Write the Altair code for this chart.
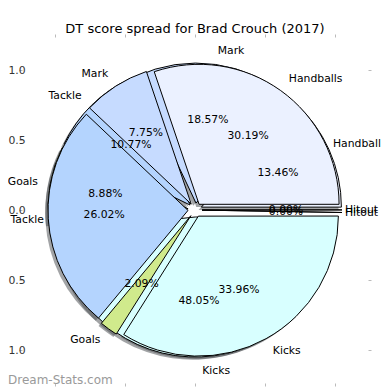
import math
import altair as alt
import pandas as pd

title_text = "DT score spread for Brad Crouch (2017)"
watermark = ["Dream-Stats.com"]

categories = ["Handballs", "Mark", "Tackle", "Goals", "Kicks", "Hitout"]
cat_colors = ["#ebf1ff", "#c6dbff", "#b4d4fe", "#d0ea8c", "#d8ffff", "#e6e6e6"]

# first (underlying) pie
pie_a_labels = ["Handball", "Mark", "Tackle", "Goals", "Kicks", "Hitout"]
pie_a_values = [13.46, 18.57, 10.77, 8.88, 48.05, 0.00]
# second (top) pie
pie_b_labels = ["Handballs", "Mark", "Tackle", "Goals", "Kicks", "Hitout"]
pie_b_values = [30.19, 7.75, 26.02, 2.09, 33.96, 0.00]

tick_values = [-1.0, -0.5, 0.0, 0.5, 1.0]

rows = []
for pie, labels, values in (("A", pie_a_labels, pie_a_values), ("B", pie_b_labels, pie_b_values)):
    for i, (lab, v) in enumerate(zip(labels, values)):
        rows.append({"pie": pie, "order": i, "cat": categories[i], "label": lab, "value": v})
df = pd.DataFrame(rows)

PX = 140.0  # pixels per data unit
LIM = 173 / PX
xs = alt.Scale(domain=[-LIM, LIM], nice=False, zero=False)
ys = alt.Scale(domain=[-LIM, LIM], nice=False, zero=False)
ts = alt.Scale(domain=[0, 100], range=[math.pi / 2, math.pi / 2 - 2 * math.pi])
cs = alt.Scale(domain=categories, range=cat_colors)

FONT = "DejaVu Sans"
FS = 10.8
# keep outer labels inside the drawing (svg edges, in data units)
LEFT_EDGE = (9 - 195) / PX
RIGHT_EDGE = (381 - 195) / PX
CHAR_L = 5.8 / PX
CHAR_R = 6.0 / PX

base = alt.Chart(df).transform_window(
    cum="sum(value)", groupby=["pie"], sort=[alt.SortField("order")]
).transform_calculate(
    start="datum.cum - datum.value",
    mid="(datum.cum - datum.value / 2) / 100 * 2 * PI",
).transform_calculate(
    ex="0.05 * cos(datum.mid)",
    ey="0.05 * sin(datum.mid)",
).transform_calculate(
    sx="datum.ex - 0.02",
    sy="datum.ey - 0.02",
    px="datum.ex + 0.6 * cos(datum.mid)",
    py="datum.ey + 0.6 * sin(datum.mid)",
    lx="datum.ex + 1.1 * cos(datum.mid)",
    ly="datum.ey + 1.1 * sin(datum.mid)",
    pct="format(datum.value, '.2f') + '%'",
).transform_calculate(
    lxl=f"max(datum.lx, {LEFT_EDGE} + length(datum.label) * {CHAR_L})",
    lxr=f"min(datum.lx, {RIGHT_EDGE} - length(datum.label) * {CHAR_R})",
)

axis_bottom = alt.Axis(orient="bottom", values=tick_values, format=".1f", tickSize=3,
                       tickColor="#bbbbbb", domain=False, grid=False, labelColor="#333333",
                       labelFont=FONT, labelFontSize=FS, labelPadding=2, title=None)
axis_left = alt.Axis(orient="left", values=tick_values, tickSize=3, tickColor="#bbbbbb",
                     domain=False, grid=False, labelColor="#333333", labelFont=FONT,
                     labelFontSize=FS, labelAlign="left", labelPadding=11,
                     labelBaseline="middle",
                     labelExpr="format(abs(datum.value), '.1f')", title=None)
axis_top = alt.Axis(orient="top", values=tick_values, tickSize=3, tickColor="#bbbbbb",
                    domain=False, grid=False, labels=False, title=None)
axis_right = alt.Axis(orient="right", values=tick_values, tickSize=3, tickColor="#bbbbbb",
                      domain=False, grid=False, labels=False, title=None)

theta = alt.Theta("start:Q", scale=ts, stack=False)
theta2 = alt.Theta2("cum:Q")

shadows = base.mark_arc(radius=140, color="#464a4d", opacity=0.5).encode(
    x=alt.X("sx:Q", scale=xs, axis=axis_bottom),
    y=alt.Y("sy:Q", scale=ys, axis=axis_left),
    theta=theta, theta2=theta2,
)

wedges_a = base.transform_filter("datum.pie == 'A'").mark_arc(
    radius=140, stroke="black", strokeWidth=1).encode(
    x=alt.X("ex:Q", scale=xs, axis=axis_top),
    y=alt.Y("ey:Q", scale=ys, axis=axis_right),
    theta=theta, theta2=theta2,
    color=alt.Color("cat:N", scale=cs, legend=None),
)

wedges_b = base.transform_filter("datum.pie == 'B'").mark_arc(
    radius=140, stroke="black", strokeWidth=1).encode(
    x=alt.X("ex:Q", scale=xs, axis=None),
    y=alt.Y("ey:Q", scale=ys, axis=None),
    theta=theta, theta2=theta2,
    color=alt.Color("cat:N", scale=cs, legend=None),
)

pcts = base.mark_text(font=FONT, fontSize=FS, color="black", align="center",
                      baseline="middle").encode(
    x=alt.X("px:Q", scale=xs, axis=None),
    y=alt.Y("py:Q", scale=ys, axis=None),
    text="pct:N",
)

labels_r = base.transform_filter("datum.lx > 0").mark_text(
    font=FONT, fontSize=FS, color="black", align="left", baseline="middle").encode(
    x=alt.X("lxr:Q", scale=xs, axis=None),
    y=alt.Y("ly:Q", scale=ys, axis=None),
    text="label:N",
)
labels_l = base.transform_filter("datum.lx <= 0").mark_text(
    font=FONT, fontSize=FS, color="black", align="right", baseline="middle").encode(
    x=alt.X("lxl:Q", scale=xs, axis=None),
    y=alt.Y("ly:Q", scale=ys, axis=None),
    text="label:N",
)

wm = alt.Chart(pd.DataFrame({"t": watermark})).mark_text(
    font=FONT, fontSize=12, color="#9a9a9a", align="left", baseline="middle").encode(
    x=alt.value(-14), y=alt.value(343), text="t:N")

chart = alt.layer(shadows, wedges_a, wedges_b, pcts, labels_r, labels_l, wm).resolve_axis(
    x="independent", y="independent"
).properties(
    width=346, height=346,
    autosize=alt.AutoSizeParams(type="none"),
    padding={"left": 14, "top": 29, "right": 14, "bottom": 12},
    title=alt.TitleParams(title_text, font=FONT, fontSize=13, fontWeight="normal",
                          color="black", anchor="middle", offset=-2),
).configure_view(strokeWidth=0)

chart.save("out.html", embed_options={"renderer": "svg", "actions": False})
